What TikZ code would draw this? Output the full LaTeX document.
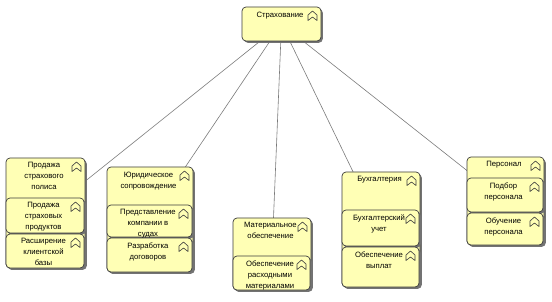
\documentclass[tikz,border=0pt]{standalone}
\usepackage{fontspec}
\setmainfont{Liberation Sans}
\usetikzlibrary{shadows,backgrounds}
\definecolor{fnfill}{HTML}{FFFFB5}
\definecolor{fnline}{HTML}{3C3C3C}
\definecolor{conncol}{HTML}{7A7A7A}
\newcommand\fnbox[6]{%
  \node[fnb, minimum width={(#4-#2)*1pt}, minimum height={(#5-#3)*1pt}] (#1) at ({(#2+#4)/2},{(#3+#5)/2}) {};
  \node[fntext] (#1t) at ({(#2+#4)/2-1.5},{#3+4.5}) {#6};
  \pic at ({#4-8.5},{#3+4}) {bficon};
}
\begin{document}
\begin{tikzpicture}[x=1pt,y=-1pt,
  fnb/.style={draw=fnline, line width=0.7pt, fill=fnfill, rounded corners=4pt, inner sep=0pt, outer sep=0pt,
    drop shadow={shadow xshift=1.8pt, shadow yshift=-1.8pt, fill=black!55, opacity=1}},
  fntext/.style={anchor=north, align=center, inner sep=0pt, font=\fontsize{7.7}{11}\selectfont},
  conn/.style={draw=conncol, line width=0.6pt},
  pics/bficon/.style={code={\draw[line width=0.6pt, draw=fnline, line join=round] (-4.5,9.5) -- (-4.5,4) -- (0,0) -- (4.5,4) -- (4.5,9.5) -- (0,6) -- cycle;}}]
\useasboundingbox (0,0) rectangle (552,302);
% top
\fnbox{top}{242}{7}{321}{41}{Страхование}
% group 1
\fnbox{ga}{6}{158}{85}{268}{Продажа\\страхового\\полиса}
\fnbox{gaa}{6}{198}{84}{233}{Продажа\\страховых\\продуктов}
\fnbox{gab}{6}{234}{84}{268}{Расширение\\клиентской\\базы}
% group 2
\fnbox{gb}{107}{167}{193}{272}{Юридическое\\сопровождение}
\fnbox{gba}{107}{205}{192}{237}{Представление\\компании в\\судах}
\fnbox{gbb}{107}{238}{192}{272}{Разработка\\договоров}
% group 3
\fnbox{gc}{233}{218}{311}{290}{Материальное\\обеспечение}
\fnbox{gca}{233}{256}{310}{290}{Обеспечение\\расходными\\материалами}
% group 4
\fnbox{gd}{342}{172}{420}{287}{Бухгалтерия}
\fnbox{gda}{342}{210}{419}{246}{Бухгалтерский\\учет}
\fnbox{gdb}{342}{247}{419}{287}{Обеспечение\\выплат}
% group 5
\fnbox{ge}{467}{157}{544}{245}{Персонал}
\fnbox{gea}{467}{178}{543}{212}{Подбор\\персонала}
\fnbox{geb}{467}{213}{543}{245}{Обучение\\персонала}
\begin{scope}[on background layer]
\draw[conn] (top.center) -- (ga.center);
\draw[conn] (top.center) -- (gb.center);
\draw[conn] (top.center) -- (gc.center);
\draw[conn] (top.center) -- (gd.center);
\draw[conn] (top.center) -- (ge.center);
\end{scope}
\end{tikzpicture}
\end{document}
